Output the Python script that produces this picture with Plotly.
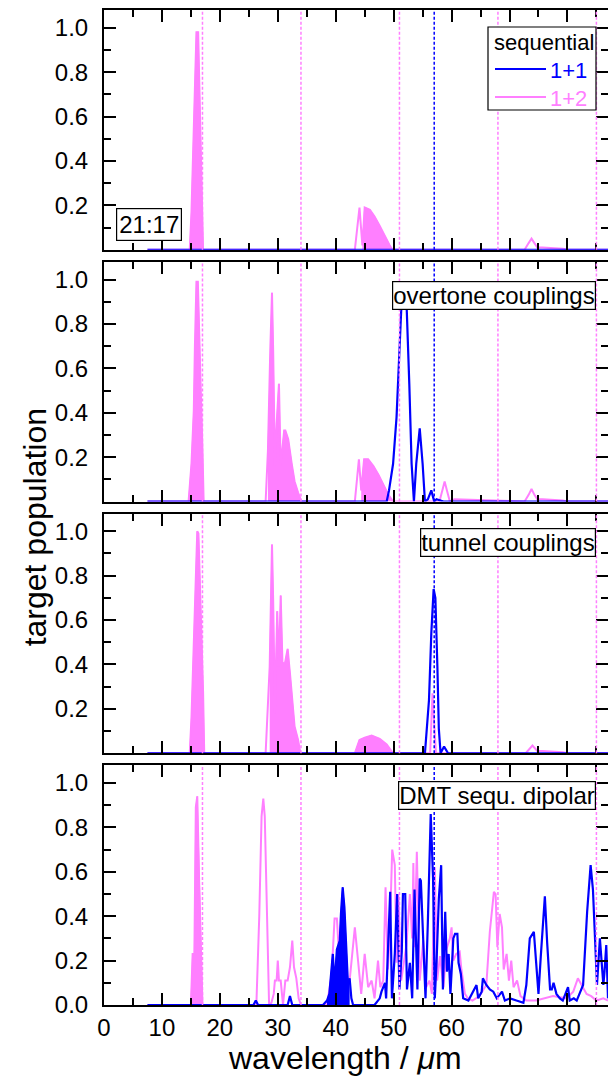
import plotly.graph_objects as go
from plotly.subplots import make_subplots

# ---------------- data ----------------
panel_labels = ["21:17", "overtone couplings", "tunnel couplings", "DMT sequ. dipolar"]
series_names = ["1+1", "1+2"]
legend_title = "sequential"
pink_lines_x = [17, 34, 51, 68, 85]
blue_lines_x = [57]

# panel 1
p1_pink = [(7.5, 0), (14.8, 0), (15.1, 0.17), (15.4, 0.45), (15.7, 0.78), (15.96, 0.98), (16.25, 0.98),
           (16.53, 0.68), (16.82, 0.29), (17.1, 0), (43.3, 0), (43.7, 0.10), (44.1, 0.19), (44.6, 0.02),
           (45.0, 0.19), (45.9, 0.18), (46.7, 0.15), (47.6, 0.107), (48.5, 0.06), (49.3, 0.02), (49.8, 0),
           (72.6, 0), (73.3, 0.03), (73.8, 0.05), (74.3, 0.03), (74.8, 0.01), (75.7, 0.01), (79.2, 0.005),
           (80, 0), (87, 0)]
p1_blue = [(7.5, 0), (87, 0)]

# panel 2
p2_pink = [(7.5, 0), (14.6, 0), (15.1, 0.17), (15.5, 0.41), (15.7, 0.71), (15.96, 0.99), (16.2, 0.99),
           (16.4, 0.83), (16.7, 0.50), (17.0, 0.23), (17.2, 0), (27.9, 0), (28.3, 0.23), (28.7, 0.68),
           (29.0, 0.94), (29.2, 0.68), (29.5, 0.16), (29.8, 0.35), (30.2, 0.53), (30.5, 0.16), (31.1, 0.32),
           (31.3, 0.32), (31.8, 0.28), (32.4, 0.17), (32.9, 0.09), (33.5, 0.04), (34.1, 0), (43.3, 0),
           (43.7, 0.10), (44.0, 0.19), (44.4, 0.05), (44.9, 0.19), (45.6, 0.19), (46.5, 0.16), (47.4, 0.12),
           (48.3, 0.07), (49.1, 0.03), (49.9, 0), (57.9, 0), (58.4, 0.05), (58.8, 0.09), (59.2, 0.05),
           (59.7, 0), (60.5, 0.01), (72.6, 0), (73.3, 0.03), (73.8, 0.056), (74.3, 0.03), (74.8, 0.01),
           (75.7, 0.01), (79.2, 0.005), (80, 0), (87, 0)]
p2_blue = [(7.5, 0), (48.8, 0), (49.2, 0.05), (49.9, 0.17), (50.5, 0.38), (51.05, 0.68), (51.3, 0.86),
           (51.8, 0.93), (52.2, 0.91), (52.7, 0.53), (53.1, 0.17), (53.5, 0), (53.9, 0.17), (54.5, 0.33),
           (55.0, 0.17), (55.4, 0), (55.9, 0.01), (56.5, 0.05), (57.0, 0), (57.4, 0.01), (58.6, 0), (87, 0)]

# panel 3
p3_pink = [(7.5, 0), (14.8, 0), (15.1, 0.16), (15.4, 0.40), (15.7, 0.69), (16.1, 1.0), (16.3, 0.99),
           (16.65, 0.69), (16.9, 0.43), (17.1, 0.28), (17.3, 0), (27.9, 0), (28.6, 0.39), (29.0, 0.94),
           (29.2, 0.69), (29.5, 0.18), (29.9, 0.64), (30.2, 0.39), (30.5, 0.71), (30.8, 0.41), (31.2, 0.40),
           (31.7, 0.47), (32.1, 0.36), (32.5, 0.24), (32.9, 0.12), (33.5, 0.06), (33.9, 0), (43.3, 0),
           (44.1, 0.06), (45.0, 0.07), (46.2, 0.08), (47.6, 0.065), (48.8, 0.04), (49.9, 0), (56.3, 0),
           (56.7, 0.27), (57.3, 0), (72.8, 0), (73.96, 0.035), (74.8, 0.01), (75.7, 0.01), (79.2, 0.005),
           (80, 0), (87, 0)]
p3_blue = [(7.5, 0), (55.4, 0), (56.1, 0.24), (56.5, 0.54), (56.9, 0.74), (57.2, 0.70), (57.55, 0.39),
           (57.8, 0.11), (58.1, 0), (58.7, 0.03), (59.4, 0), (87, 0)]

# panel 4
p4_pink = [(7.5, 0), (15.0, 0), (15.3, 0.23), (15.6, 0.23), (15.85, 0.89), (16.1, 0.94), (16.4, 0.58),
           (16.7, 0.23), (17.0, 0), (26.3, 0), (26.8, 0.40), (27.2, 0.85), (27.5, 0.93), (27.75, 0.85),
           (28.2, 0.25), (28.5, 0), (28.9, 0.01), (29.3, 0.05), (29.5, 0.11), (29.8, 0.11), (30.0, 0.20),
           (30.2, 0.11), (30.5, 0.11), (30.9, 0), (31.3, 0.11), (31.7, 0.11), (32.1, 0.17), (32.5, 0.29),
           (32.8, 0.17), (33.2, 0.12), (33.6, 0.03), (34.0, 0), (38.5, 0), (39.3, 0.14), (39.8, 0.39),
           (40.2, 0.39), (40.7, 0.17), (41.6, 0.05), (42.4, 0.11), (43.3, 0.35), (44.0, 0.16), (44.4, 0.05),
           (45.0, 0.23), (45.6, 0.08), (46.2, 0.11), (46.7, 0.03), (47.3, 0.20), (47.7, 0.08), (48.2, 0.11),
           (48.6, 0.53), (49.0, 0.16), (49.3, 0.30), (49.75, 0.70), (50.2, 0.63), (50.5, 0.19), (50.8, 0.50),
           (51.3, 0.11), (52.2, 0.27), (52.8, 0.50), (53.2, 0.30), (53.4, 0.64), (53.6, 0.26), (54.0, 0.69),
           (54.5, 0.11), (55.1, 0.29), (55.6, 0.08), (56.2, 0.11), (56.6, 0.05), (57.1, 0.62), (57.5, 0.11),
           (58.0, 0.22), (58.6, 0.08), (59.1, 0.25), (59.7, 0.30), (60.0, 0.35), (60.3, 0.20), (60.8, 0.23),
           (61.4, 0.24), (61.7, 0.16), (62.3, 0.05), (62.8, 0.03), (63.6, 0.02), (64.8, 0.04), (66.0, 0.09),
           (66.6, 0.33), (67.3, 0.51), (67.6, 0.50), (67.9, 0.26), (68.3, 0.41), (68.7, 0.35), (69.0, 0.16),
           (69.5, 0.23), (69.9, 0.11), (70.3, 0.20), (70.7, 0.08), (71.3, 0.11), (71.9, 0.04), (72.9, 0.02),
           (74.6, 0.02), (77.5, 0.04), (79.8, 0.03), (81.0, 0.06), (81.8, 0.12), (82.4, 0.09), (83.3, 0.05),
           (84.1, 0.04), (85.0, 0.02), (86.2, 0.03), (87, 0.02)]
p4_blue = [(7.5, 0), (25.8, 0), (26.2, 0.02), (26.6, 0), (31.7, 0), (32.1, 0.04), (32.5, 0), (37.8, 0),
           (38.5, 0.02), (38.9, 0.05), (39.5, 0.23), (39.8, 0.09), (40.2, 0.25), (40.7, 0.29), (40.9, 0.41),
           (41.2, 0.53), (41.5, 0.44), (41.8, 0.28), (42.1, 0.10), (42.4, 0.12), (42.7, 0.03), (43.0, 0),
           (46.7, 0), (47.6, 0.03), (47.9, 0.06), (48.5, 0.10), (48.7, 0.03), (49.4, 0.51), (49.7, 0.03),
           (50.2, 0.23), (50.6, 0.50), (51.0, 0.07), (51.4, 0.24), (51.6, 0.50), (52.0, 0.50), (52.3, 0.07),
           (52.8, 0.19), (53.2, 0.03), (53.6, 0.52), (54.1, 0.07), (54.5, 0.57), (54.7, 0.56), (55.2, 0.19),
           (55.5, 0.03), (55.9, 0.37), (56.4, 0.86), (56.8, 0.57), (57.1, 0.03), (57.4, 0.19), (57.8, 0.48),
           (58.2, 0.63), (58.5, 0.07), (58.9, 0.42), (59.2, 0.15), (59.5, 0.23), (59.8, 0.05), (60.3, 0.30),
           (60.6, 0.32), (61.0, 0.32), (61.2, 0.19), (61.6, 0.14), (62.0, 0.03), (62.9, 0.02), (64.3, 0.09),
           (64.6, 0.03), (65.2, 0.06), (65.4, 0.12), (66.0, 0.09), (66.6, 0.07), (67.2, 0.06), (67.8, 0.03),
           (68.7, 0.06), (69.2, 0.02), (70.1, 0.03), (71.2, 0.02), (72.4, 0.01), (72.9, 0.09), (73.5, 0.30),
           (74.2, 0.33), (74.6, 0.19), (75.0, 0.05), (75.4, 0.22), (76.1, 0.49), (76.5, 0.28), (77.0, 0.07),
           (77.3, 0.07), (77.6, 0.10), (78.1, 0.05), (78.7, 0.03), (79.2, 0.02), (80.1, 0.08), (80.4, 0.02),
           (81.1, 0.03), (81.6, 0.02), (82.7, 0.09), (83.4, 0.42), (84.0, 0.63), (84.4, 0.52), (84.7, 0.30),
           (85.1, 0.09), (85.6, 0.30), (85.9, 0.18), (86.2, 0.09), (86.4, 0.15), (86.7, 0.27), (87.0, 0.03)]

# x-ranges where the curve oscillates so densely that it looks filled
pink_dense = [[(14.5, 17.5), (44.6, 50)],
              [(14.5, 17.5), (28, 34.5), (44.4, 50)],
              [(14.5, 17.5), (28, 34.5), (43, 50)],
              [(14.5, 17.5)]]
blue_dense = [[], [], [], [(38.5, 42.5)]]

pink_series = [p1_pink, p2_pink, p3_pink, p4_pink]
blue_series = [p1_blue, p2_blue, p3_blue, p4_blue]

y_major = [0.2, 0.4, 0.6, 0.8, 1.0]
y_major_bottom = [0.0, 0.2, 0.4, 0.6, 0.8, 1.0]
y_minor = [0.1, 0.3, 0.5, 0.7, 0.9]
x_range = [0, 87]
y_range = [0, 1.08]

# ---------------- styling ----------------
PINK = "#FF7FFF"
BLUE = "#0000FF"
FONT = "Liberation Sans, Arial, sans-serif"

# plot area in screen pixels (used to place the hand-made legend)
PL, PR, PT, PB = 104, 608, 10, 1005


def px2paper(x, y):
    return (x - PL) / (PR - PL), (PB - y) / (PB - PT)


def split(pts):
    return [p[0] for p in pts], [p[1] for p in pts]


def subset(pts, lo, hi):
    sel = [p for p in pts if lo <= p[0] <= hi]
    return split(sel)


fig = make_subplots(rows=4, cols=1, shared_xaxes=True, vertical_spacing=12 / 995)

for i in range(4):
    r = i + 1
    for lo, hi in pink_dense[i]:
        fx, fy = subset(pink_series[i], lo, hi)
        fig.add_trace(go.Scatter(x=fx, y=fy, mode="lines", fill="tozeroy", fillcolor=PINK,
                                 line=dict(color=PINK, width=1), showlegend=False, hoverinfo="skip"),
                      row=r, col=1)
    px_, py_ = split(pink_series[i])
    fig.add_trace(go.Scatter(x=px_, y=py_, mode="lines", line=dict(color=PINK, width=2),
                             name=series_names[1], showlegend=False), row=r, col=1)
    for lo, hi in blue_dense[i]:
        fx, fy = subset(blue_series[i], lo, hi)
        fig.add_trace(go.Scatter(x=fx, y=fy, mode="lines", fill="tozeroy", fillcolor=BLUE,
                                 line=dict(color=BLUE, width=1), showlegend=False, hoverinfo="skip"),
                      row=r, col=1)
    bx, by = split(blue_series[i])
    fig.add_trace(go.Scatter(x=bx, y=by, mode="lines", line=dict(color=BLUE, width=2.2),
                             name=series_names[0], showlegend=False), row=r, col=1)

axis_common = dict(showline=True, linecolor="black", linewidth=2, mirror="ticks", ticks="inside",
                   ticklen=12, tickwidth=2, tickcolor="black", showgrid=False, zeroline=False,
                   automargin=False, tickfont=dict(family=FONT, size=24, color="black"))

for i in range(4):
    r = i + 1
    fig.update_xaxes(range=x_range, dtick=10, tick0=0,
                     minor=dict(dtick=5, tick0=0, ticks="inside", ticklen=7, tickwidth=2, tickcolor="black"),
                     showticklabels=(r == 4), **axis_common, row=r, col=1)
    majors = y_major_bottom if r == 4 else y_major
    fig.update_yaxes(range=y_range, tickmode="array", tickvals=majors, ticktext=[f"{v:.1f}" for v in majors],
                     minor=dict(tickmode="array", tickvals=y_minor, ticks="inside", ticklen=7, tickwidth=2,
                                tickcolor="black"),
                     ticklabelstandoff=9, **axis_common, row=r, col=1)

# dashed reference lines
shapes = []
for i in range(4):
    xr = "x" if i == 0 else f"x{i + 1}"
    yr = "y domain" if i == 0 else f"y{i + 1} domain"
    for xv in pink_lines_x:
        shapes.append(dict(type="line", xref=xr, yref=yr, x0=xv, x1=xv, y0=0, y1=1,
                           line=dict(color=PINK, width=1.5, dash="3px,2px"), layer="above"))
    for xv in blue_lines_x:
        shapes.append(dict(type="line", xref=xr, yref=yr, x0=xv, x1=xv, y0=0, y1=1,
                           line=dict(color=BLUE, width=1.5, dash="3px,2px"), layer="above"))

annotations = []

# hand-made legend box in panel 1
bx0, by0 = px2paper(488, 27)
bx1, by1 = px2paper(596, 110)
shapes.append(dict(type="rect", xref="paper", yref="paper", x0=bx0, x1=bx1, y0=by1, y1=by0,
                   fillcolor="white", line=dict(color="black", width=1.2), layer="above"))
tx, ty = px2paper(492, 43)
annotations.append(dict(text=legend_title, xref="paper", yref="paper", x=tx, y=ty, xanchor="left",
                        yanchor="middle", showarrow=False, font=dict(family=FONT, size=22, color="black")))
for name, col, yy in [(series_names[0], BLUE, 69), (series_names[1], PINK, 97)]:
    lx0, ly = px2paper(495, yy)
    lx1, _ = px2paper(546, yy)
    shapes.append(dict(type="line", xref="paper", yref="paper", x0=lx0, x1=lx1, y0=ly, y1=ly,
                       line=dict(color=col, width=2.2), layer="above"))
    ax, ay = px2paper(589, yy + 1)
    annotations.append(dict(text=name, xref="paper", yref="paper", x=ax, y=ay, xanchor="right",
                            yanchor="middle", showarrow=False, font=dict(family=FONT, size=22, color=col)))

# panel labels
annotations.append(dict(text=panel_labels[0], xref="x domain", yref="y domain", x=0.024, y=0.037,
                        xanchor="left", yanchor="bottom", showarrow=False, bgcolor="white",
                        bordercolor="black", borderwidth=1.2, borderpad=2,
                        font=dict(family=FONT, size=24, color="black")))
label_pos = [(2, 0.921), (3, 0.9375), (4, 0.933)]
for k, (r, yv) in enumerate(label_pos):
    annotations.append(dict(text=panel_labels[k + 1], xref=f"x{r} domain", yref=f"y{r} domain",
                            x=0.977, y=yv, xanchor="right", yanchor="top", showarrow=False,
                            bgcolor="white", bordercolor="black", borderwidth=1.2, borderpad=0,
                            font=dict(family=FONT, size=24, color="black")))
# axis titles
annotations.append(dict(text="target population", xref="paper", yref="paper", x=-0.137, y=0.48,
                        xanchor="center", yanchor="middle", textangle=-90, showarrow=False,
                        font=dict(family=FONT, size=32, color="black")))
annotations.append(dict(text="wavelength / <i>\u03bc</i>m", xref="paper", yref="paper", x=0.478, y=-0.053,
                        xanchor="center", yanchor="middle", showarrow=False,
                        font=dict(family=FONT, size=32, color="black")))

# the page body adds an 8 px offset, so the figure is 8 px smaller and margins shifted
fig.update_layout(
    width=608, height=1072,
    margin=dict(l=96, r=8, t=2, b=75),
    paper_bgcolor="white", plot_bgcolor="white",
    shapes=shapes, annotations=annotations,
    showlegend=False,
)

fig.write_html("out.html")
